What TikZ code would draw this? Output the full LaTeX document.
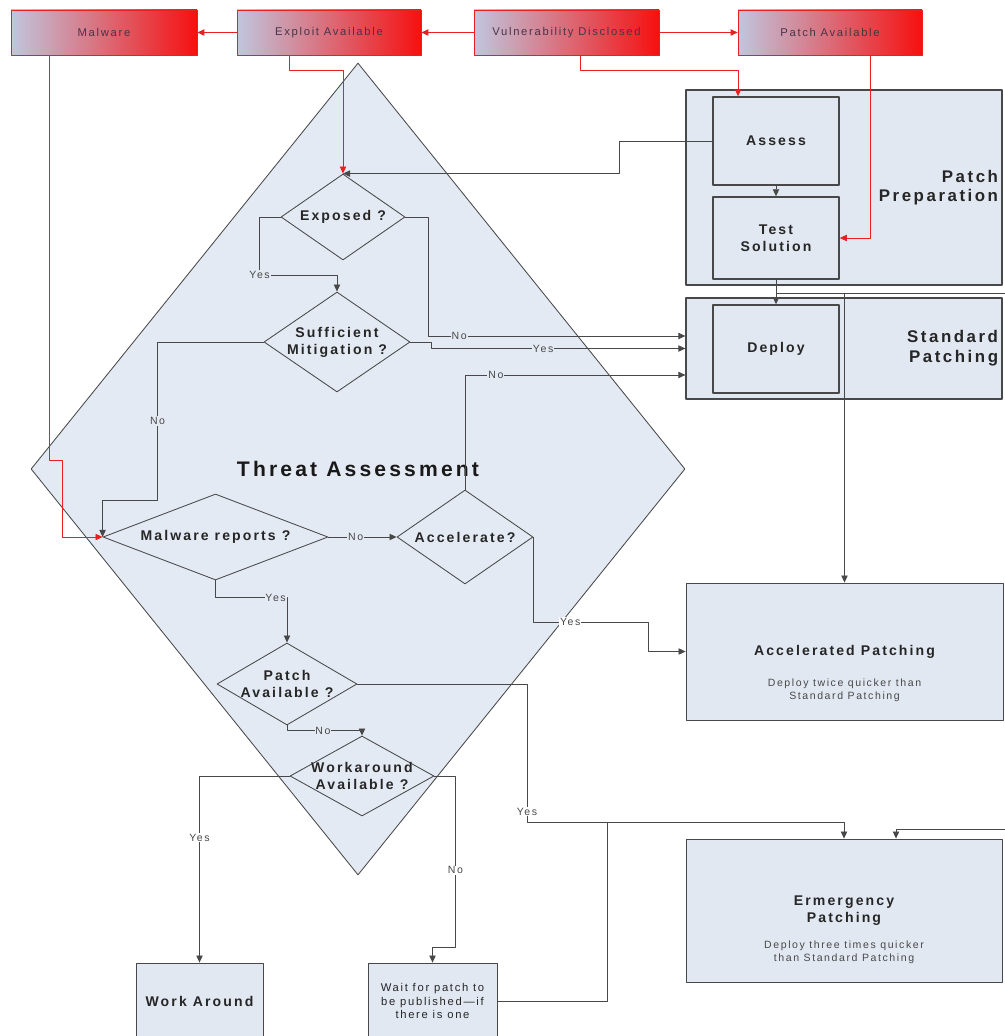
\documentclass[tikz,border=0pt]{standalone}
\usepackage{fontspec}
\setmainfont{Liberation Sans}[LetterSpace=15]
\usepackage{tikz}
\usetikzlibrary{arrows.meta}
\usetikzlibrary{shapes}
\usetikzlibrary{calc}
\usetikzlibrary{positioning}
\usepackage{xcolor}

\definecolor{tafill}{RGB}{228,234,243}
\definecolor{boxfill}{RGB}{226,232,242}
\definecolor{edge}{RGB}{72,72,72}
\definecolor{alert}{RGB}{232,32,32}
\definecolor{shadeL}{RGB}{192,198,222}
\definecolor{shadeR}{RGB}{246,16,16}
\definecolor{evtxt}{RGB}{72,52,72}

\begin{document}
\begin{tikzpicture}[x=0.025cm, y=-0.025cm, line join=round,
  wh/.style 2 args={minimum width=#1*0.025cm, minimum height=#2*0.025cm},
  event/.style={draw=alert, line width=0.5pt, left color=shadeL, right color=shadeR, inner sep=0pt, text=evtxt, font=\fontsize{8}{9}\selectfont},
  dec/.style={diamond, draw=edge, line width=0.6pt, fill=tafill, inner sep=0pt},
  dectxt/.style={font=\fontsize{10}{12}\selectfont\bfseries, align=center, inner sep=0pt, text=black!85},
  bigtxt/.style={font=\fontsize{15}{18}\selectfont\bfseries, inner sep=0pt, text=black!90},
  box/.style={draw=edge, line width=0.6pt, fill=boxfill, inner sep=0pt, align=center, text=black!85, font=\fontsize{10}{12}\selectfont\bfseries},
  inbox/.style={box, line width=1pt},
  grp/.style={box, line width=0.8pt, text width=7.7cm, inner xsep=0.1cm, align=right, font=\fontsize{12}{14}\selectfont\bfseries},
  sub/.style={inner sep=0pt, align=center, text=edge, font=\fontsize{7.5}{9}\selectfont},
  lbl/.style={inner sep=0.6pt, fill=tafill, text=edge, font=\fontsize{7.5}{8}\selectfont},
  lblw/.style={lbl, fill=white},
  link/.style={draw=edge, line width=0.6pt},
  conn/.style={link, -{Triangle[length=5pt,width=4.5pt]}},
  alarm/.style={conn, draw=alert}]

\useasboundingbox (0,0) rectangle (1004,1036); % page frame

% threat assessment (background diamond)
\node[dec, wh={654}{812}, label={[bigtxt]center:Threat Assessment}] (thrt) at (358,469) {};

% events on top
\node[event, wh={186}{45}] (malw) at (104,32.5) {Malware};
\node[event, wh={184}{45}] (expl) at (329,32.5) {Exploit Available};
\node[event, wh={185}{45}] (vuln) at (566.5,32.5) {Vulnerability Disclosed};
\node[event, wh={184}{45}] (pavl) at (830,32.5) {Patch Available};

% decisions
\node[dec, wh={124}{86}, label={[dectxt]center:Exposed ?}] (expo) at (343,217) {};
\node[dec, wh={146}{100}, label={[dectxt]center:Sufficient\\Mitigation ?}] (suff) at (337,342) {};
\node[dec, wh={225}{86}, label={[dectxt]center:Malware reports ?}] (mrep) at (215.5,537) {};
\node[dec, wh={136}{94}, label={[dectxt]center:Accelerate?}] (accl) at (465,537) {};
\node[dec, wh={140}{82}, label={[dectxt]center:Patch\\Available ?}] (pava) at (287,684) {};
\node[dec, wh={144}{80}, label={[dectxt]center:Workaround\\Available ?}] (work) at (362,776) {};

% patching groups
\node[grp, wh={316}{195}] (ppre) at (844,187.5) {Patch\\Preparation};
\node[grp, wh={316}{101}] (stdp) at (844,348.5) {Standard\\Patching};
\node[inbox, wh={126}{88}] (asse) at (776,141) {Assess};
\node[inbox, wh={126}{82}] (test) at (776,238) {Test\\Solution};
\node[inbox, wh={126}{88}] (depl) at (776,349) {Deploy};

\node[box, wh={317}{137}] (acc) at (844.5,651.5) {Accelerated Patching};
\node[sub, below=0.68cm of acc.center] (accsub) {Deploy twice quicker than\\Standard Patching};
\node[box, wh={316}{143}] (emer) at (844,910.5) {Ermergency\\Patching};
\node[sub, below=0.76cm of emer.center] (emersub) {Deploy three times quicker\\than Standard Patching};

% outcomes at the bottom
\node[box, wh={127}{76}] (wkar) at (199.5,1001) {Work Around};
\node[box, wh={129}{76}, font=\fontsize{8}{9.5}\selectfont] (wait) at (432.5,1001) {Wait for patch to\\be published---if\\there is one};

% red event flow
\draw[alarm] (vuln.west) -- (expl.east);
\draw[alarm] (expl.west) -- (malw.east);
\draw[alarm] (vuln.east) -- (pavl.west);
\draw[alarm] ($(expl.south)+(-40,0)$) -- ++(0,15) -| (expo.north);
\draw[alarm] ($(vuln.south)+(13.5,0)$) -- ++(0,15) -| ($(asse.north)+(-38,0)$);
\draw[alarm] ($(pavl.south)+(40,0)$) |- (test.east);
\draw[alarm] ($(malw.south)+(-55,0)$) -- ++(0,405) -- ++(13,0) |- (mrep.west);

% patch preparation
\draw[conn] (asse.west) -- ++(-93,0) |- (expo.north);
\draw[conn] (asse.south) -- (test.north);
\draw[conn] (test.south) -- (depl.north);
\draw[conn] (test.south) -- ++(0,14) -| (acc.north);
\draw[conn] ($(test.south)+(0,14)$) -- ++(260,0) |- ($(emer.north)+(52,-9)$) -- ($(emer.north)+(52,0)$); % loops outside the page

% threat assessment flow
\draw[conn] (expo.west) -- ++(-21,0) -- ++(0,58) node[lbl]{Yes} -| (suff.north);
\draw[conn] (expo.east) -- ++(23,0) |- node[lbl,pos=0.56]{No} ($(stdp.west)+(0,-12.5)$);
\draw[conn] (suff.east) -- ++(21,0) |- node[lbl,pos=0.72]{Yes} (stdp.west);
\draw[conn] (suff.west) -- ++(-106,0) -- node[lbl]{No} ++(0,158) -| (mrep.west);
\draw[conn] (mrep.east) -- node[lbl,pos=0.4]{No} (accl.west);
\draw[conn] (mrep.south) -- ++(0,17) -| node[lbl,pos=0.42]{Yes} (pava.north);
\draw[conn] (accl.north) |- node[lbl,pos=0.57]{No} ($(stdp.west)+(0,26.5)$);
\draw[conn] (accl.east) -- ++(0,85) -- node[lblw,pos=0.32]{Yes} ++(115,0) |- (acc.west);
\draw[conn] (pava.south) -- ++(0,5) -| node[lbl,pos=0.24]{No} (work.north);
\draw[conn] (pava.east) -| node[lblw,pos=0.96]{Yes} ($(emer.north)+(-317,-16)$) -| (emer.north);
\draw[link] (wait.east) -| ($(emer.north)+(-237,-16)$);
\draw[conn] (work.west) -| node[lblw,pos=0.665]{Yes} (wkar.north);
\draw[conn] (work.east) -- ++(21,0) -- node[lblw,pos=0.55]{No} ++(0,171) -| (wait.north);

\end{tikzpicture}
\end{document}
